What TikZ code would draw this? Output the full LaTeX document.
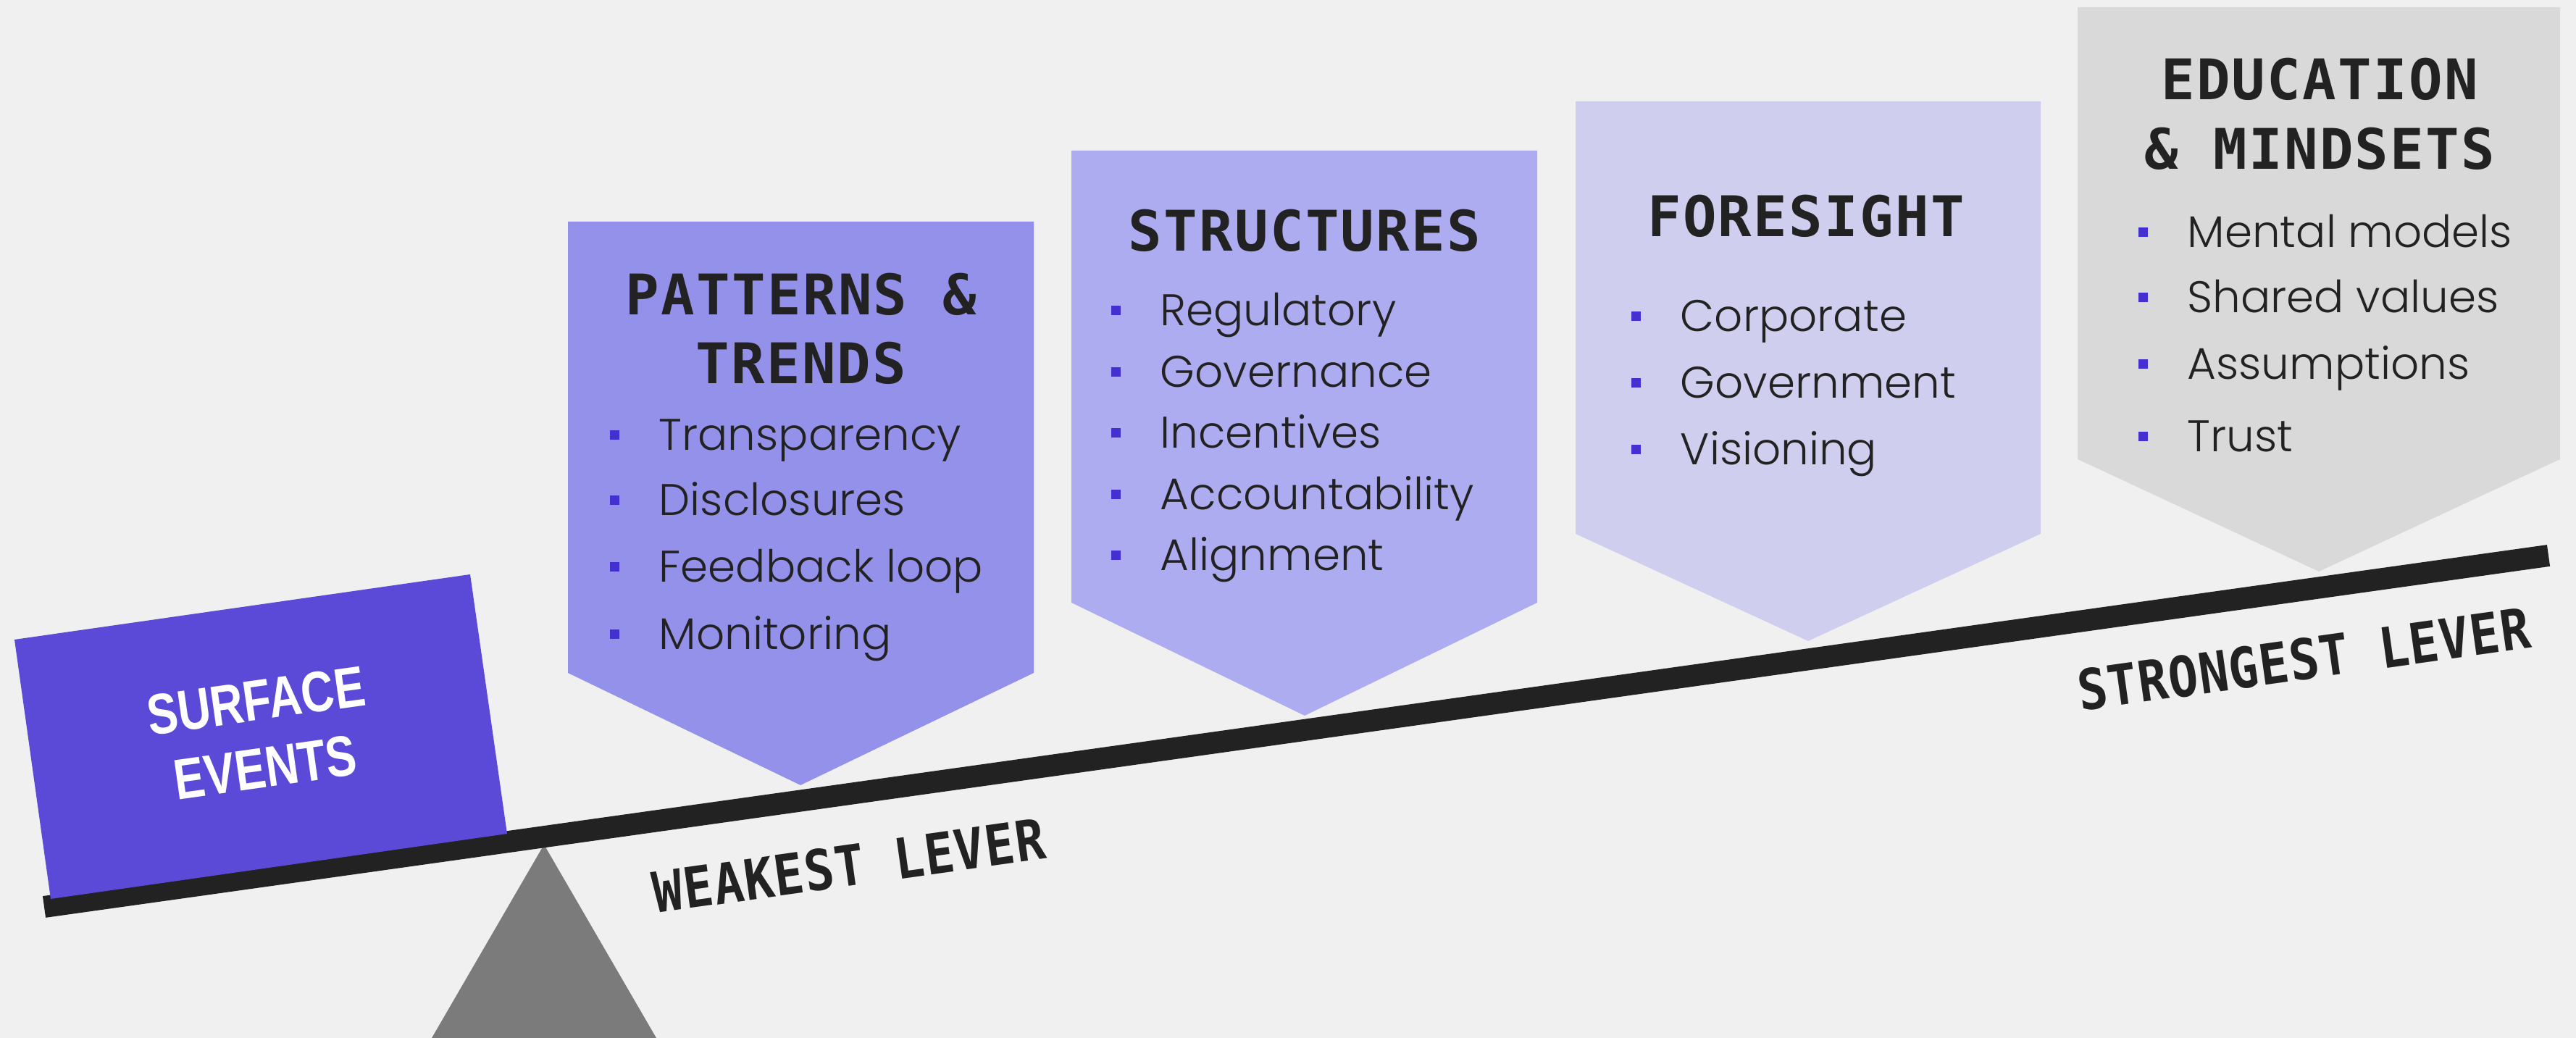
\documentclass[tikz,border=0pt]{standalone}
\usepackage{fontspec}
\setmainfont{Poppins}[UprightFont=* Light]
\newfontfamily\titlefont{DejaVu Sans Mono}[LetterSpace=3]
\newfontfamily\leverfont{DejaVu Sans Mono}[FakeStretch=0.88,LetterSpace=1.5]
\newfontfamily\surfacefont{Liberation Sans}[FakeStretch=0.8]

\definecolor{bgGrey}{HTML}{F0F0F0}
\definecolor{surfaceBlue}{HTML}{5B4AD7}
\definecolor{patternsPurple}{HTML}{9491EA}
\definecolor{structLilac}{HTML}{AEACF0}
\definecolor{foreLavender}{HTML}{D0CEEE}
\definecolor{eduGrey}{HTML}{D9D9D9}
\definecolor{bulletBlue}{HTML}{4430D0}
\definecolor{inkBlack}{HTML}{222222}
\definecolor{fulcrumGrey}{HTML}{7B7B7B}

\newcommand{\sqbullet}{{\color{bulletBlue}\rule[0.145cm]{0.13cm}{0.13cm}}\hspace{0.545cm}}

\tikzset{
	titletext/.style={font=\titlefont\bfseries\fontsize{22}{26}\selectfont, text=inkBlack, inner sep=0pt, anchor=base},
	itemtext/.style={font=\fontsize{17.4}{21}\selectfont, text=inkBlack, inner sep=0pt, anchor=base west},
	levertext/.style={font=\leverfont\bfseries\fontsize{22}{26}\selectfont, text=inkBlack, inner sep=0pt, rotate=8},
	surfacetext/.style={font=\surfacefont\bfseries\fontsize{22.5}{26.5}\selectfont, text=white, align=center, inner sep=0pt, rotate=8}
}

\begin{document}
\begin{tikzpicture}
		\def\beam{0.3};
		
		\fill[bgGrey] (0,0) rectangle (35.56,14.33);
		\useasboundingbox (0,0) rectangle (35.56,14.33);
		
		% fulcrum
		\fill[fulcrumGrey] (5.96,0) -- (7.51,2.67) -- (9.06,0) -- cycle;
		
		% the four chevrons
		\fill[patternsPurple] (7.84,11.27) -- (14.27,11.27) -- (14.27,5.04) -- (11.05,3.49) -- (7.84,5.04) -- cycle;
		\fill[structLilac] (14.79,12.25) -- (21.22,12.25) -- (21.22,6.01) -- (18.01,4.45) -- (14.79,6.01) -- cycle;
		\fill[foreLavender] (21.75,12.93) -- (28.17,12.93) -- (28.17,6.96) -- (24.96,5.48) -- (21.75,6.96) -- cycle;
		\fill[eduGrey] (28.68,14.23) -- (35.34,14.23) -- (35.34,7.99) -- (32.01,6.44) -- (28.68,7.99) -- cycle;
		
		% lever
		\draw[inkBlack, line width=\beam cm] (0.61,1.81) -- (35.18,6.66);
		\fill[surfaceBlue] (0.70,1.92) -- (7.00,2.82) -- (6.49,6.40) -- (0.20,5.50) -- cycle;
		\node[surfacetext] (surface) at (3.60,4.195) {SURFACE\\EVENTS};
		
		\node[levertext] (weakest) at (11.72,2.38) {WEAKEST LEVER};
		\node[levertext] (strongest) at (31.80,5.23) {STRONGEST LEVER};
		
		% patterns & trends
		\node[titletext] (patTitleA) at (11.06,9.98) {PATTERNS \&};
		\node[titletext] (patTitleB) at (11.06,9.03) {TRENDS};
		\node[itemtext] (pat1) at (8.415,8.11) {\sqbullet Transparency};
		\node[itemtext] (pat2) at (8.415,7.21) {\sqbullet Disclosures};
		\node[itemtext] (pat3) at (8.415,6.29) {\sqbullet Feedback loop};
		\node[itemtext] (pat4) at (8.415,5.36) {\sqbullet Monitoring};
		
		% structures
		\node[titletext] (strTitle) at (18.01,10.86) {STRUCTURES};
		\node[itemtext] (str1) at (15.335,9.83) {\sqbullet Regulatory};
		\node[itemtext] (str2) at (15.335,8.98) {\sqbullet Governance};
		\node[itemtext] (str3) at (15.335,8.14) {\sqbullet Incentives};
		\node[itemtext] (str4) at (15.335,7.29) {\sqbullet Accountability};
		\node[itemtext] (str5) at (15.335,6.45) {\sqbullet Alignment};
		
		% foresight
		\node[titletext] (foreTitle) at (24.93,11.06) {FORESIGHT};
		\node[itemtext] (fore1) at (22.515,9.75) {\sqbullet Corporate};
		\node[itemtext] (fore2) at (22.515,8.83) {\sqbullet Government};
		\node[itemtext] (fore3) at (22.515,7.91) {\sqbullet Visioning};
		
		% education & mindsets
		\node[titletext] (eduTitleA) at (32.02,12.95) {EDUCATION};
		\node[titletext] (eduTitleB) at (32.02,11.99) {\& MINDSETS};
		\node[itemtext] (edu1) at (29.515,10.91) {\sqbullet Mental models};
		\node[itemtext] (edu2) at (29.515,10.01) {\sqbullet Shared values};
		\node[itemtext] (edu3) at (29.515,9.09) {\sqbullet Assumptions};
		\node[itemtext] (edu4) at (29.515,8.09) {\sqbullet Trust};
\end{tikzpicture}
\end{document}
